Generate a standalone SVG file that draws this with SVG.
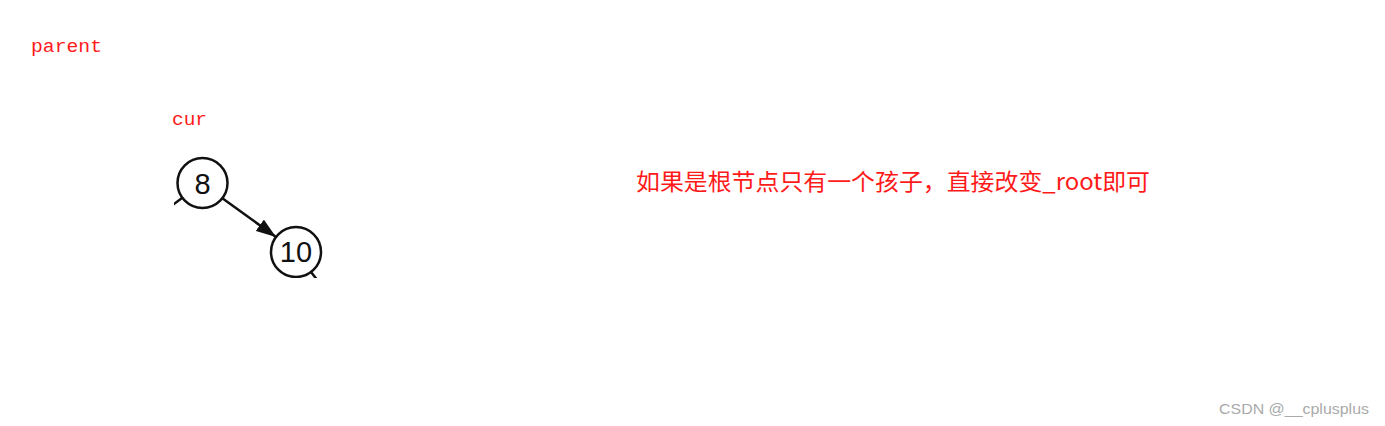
<svg xmlns="http://www.w3.org/2000/svg" width="1385" height="426" viewBox="0 0 1385 426">
<style>
.lbl{font-family:"Liberation Mono","Noto Sans CJK SC",monospace;fill:#ff1a1a}
.cjk{font-family:"Noto Sans CJK SC","Liberation Mono",monospace;fill:#ff1a1a}
.node circle{fill:#fff;stroke:#111;stroke-width:2.5}
.node text{font-family:"Liberation Sans",Arial,sans-serif;font-size:29px;fill:#111;text-anchor:middle}
.edge{stroke:#111;stroke-width:2.5;fill:none}
.wm{font-family:"Liberation Sans",Arial,sans-serif;font-size:15px;fill:#aaa}
</style>
<defs>
<marker id="arr" viewBox="0 0 10 10" refX="10" refY="5" markerWidth="7" markerHeight="7" markerUnits="userSpaceOnUse" orient="auto">
<path d="M0,0 L10,5 L0,10 z" fill="#111"/>
</marker>
<marker id="arrow" viewBox="0 0 20 14" refX="20" refY="7" markerWidth="20" markerHeight="14" markerUnits="userSpaceOnUse" orient="auto">
<path d="M0,0 L20,7 L0,14 z" fill="#111"/>
</marker>
<clipPath id="clip"><rect x="174" y="140" width="200" height="138"/></clipPath>
</defs>
<rect width="1385" height="426" fill="#fff"/>
<text class="lbl" x="31" y="52" font-size="19" textLength="71" lengthAdjust="spacingAndGlyphs">parent</text>
<text class="lbl" x="172" y="125" font-size="19" textLength="35" lengthAdjust="spacingAndGlyphs">cur</text>
<g clip-path="url(#clip)">
<g id="connectors">
<line class="edge" x1="182" y1="198" x2="170" y2="207"/>
<line class="edge" x1="311" y1="272" x2="318" y2="281"/>
<line class="edge" x1="222" y1="198" x2="276" y2="237" marker-end="url(#arrow)"/>
</g>
<g id="node8" class="node">
<circle cx="202.5" cy="183" r="25"/>
<text x="202.5" y="194">8</text>
</g>
<g id="node10" class="node">
<circle cx="296" cy="252" r="25"/>
<text x="296" y="262">10</text>
</g>
</g>
<text class="cjk" x="636" y="190" font-size="23" textLength="514" lengthAdjust="spacingAndGlyphs">如果是根节点只有一个孩子，直接改变_root即可</text>
<text class="wm" x="1219" y="414" textLength="150" lengthAdjust="spacingAndGlyphs">CSDN @__cplusplus</text>
</svg>
